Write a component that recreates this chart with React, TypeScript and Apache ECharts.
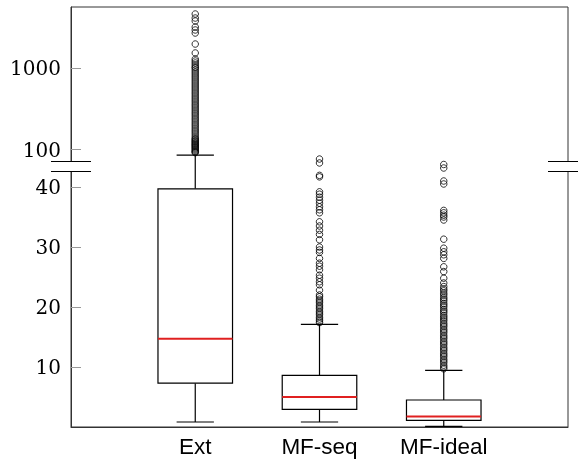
import React, { useEffect, useRef } from "react";
import * as echarts from "echarts";

// Runtime per method; one box per category.
const categories = ["Ext", "MF-seq", "MF-ideal"];

// [lower whisker, Q1, median, Q3, upper whisker]
const extStats = [0.83, 7.3, 14.7, 39.7, 86];
const mfSeqStats = [0.83, 2.93, 5.0, 8.6, 17.1];
const mfIdealStats = [0.1, 1.12, 1.77, 4.5, 9.43];

const extOutliers = [
  4580, 4090, 3760, 3175, 2920, 2680, 1965, 1527, 1288, 1218, 1151, 1088, 1029,
  1000, 945, 893, 845, 798, 755, 713, 674, 637, 602, 569, 538, 508, 481, 454,
  429, 406, 384, 362, 343, 324, 306, 289, 274, 259, 244, 231, 218, 206, 195,
  184, 174, 165, 156, 147, 139, 135, 131, 127, 124, 120, 117, 114, 111, 108,
  105, 102, 99, 96, 94, 92,
];
const mfSeqOutliers = [
  76.9, 68.8, 48.5, 46.5, 39.2, 38.8, 38.3, 37.8, 37.3, 36.7, 36.2, 35.7, 34.2,
  33.5, 32.8, 32.1, 31.2, 30.0, 29.5, 29.1, 28.1, 27.3, 26.8, 26.2, 25.3, 24.8,
  24.2, 23.7, 22.8, 22.0, 21.7, 21.3, 21.0, 20.7, 20.3, 20.0, 19.7, 19.3, 19.0,
  18.7, 18.3, 18.0, 17.7, 17.4,
];
const mfIdealOutliers = [
  65.9, 59.7, 41.0, 40.5, 36.1, 35.7, 35.3, 35.0, 34.5, 31.3, 29.8, 29.2, 28.7,
  28.1, 26.7, 25.9, 24.8, 24.0, 23.4, 23.0, 22.7, 22.3, 22.0, 21.6, 21.3, 21.0,
  20.6, 20.3, 20.0, 19.6, 19.3, 19.0, 18.6, 18.3, 18.0, 17.7, 17.3, 17.0, 16.7,
  16.3, 16.0, 15.7, 15.3, 15.0, 14.7, 14.3, 14.0, 13.7, 13.3, 13.0, 12.7, 12.3,
  12.0, 11.7, 11.3, 11.0, 10.7, 10.3, 10.0, 9.7,
];

const yTickValues = [10, 20, 30, 40, 100, 1000];

// Broken y axis: linear segment below LINEAR_TOP, log10 segment above it.
const LINEAR_TOP = 41;
const LINEAR_SCALE = 6;
const LOG_ANCHOR = 277.3; // axis position of the value 100
const LOG_DECADE = 81.7;
const AXIS_MAX = 420;

function toAxis(v: number): number {
  return v <= LINEAR_TOP
    ? v * LINEAR_SCALE
    : LOG_ANCHOR + LOG_DECADE * Math.log10(v / 100);
}

const statsList = [extStats, mfSeqStats, mfIdealStats];
const outlierList = [extOutliers, mfSeqOutliers, mfIdealOutliers];

const BOX_WIDTH = 0.6;
const CAP_WIDTH = 0.3;

function breakMark(x: number) {
  return [
    {
      type: "rect",
      z: 100,
      silent: true,
      shape: { x, y: 162, width: 40, height: 9 },
      style: { fill: "#ffffff" },
    },
    {
      type: "line",
      z: 101,
      silent: true,
      shape: { x1: x, y1: 161.5, x2: x + 40, y2: 161.5 },
      style: { stroke: "#000", lineWidth: 1.1 },
    },
    {
      type: "line",
      z: 101,
      silent: true,
      shape: { x1: x, y1: 171.5, x2: x + 40, y2: 171.5 },
      style: { stroke: "#000", lineWidth: 1.1 },
    },
  ];
}

export default function App() {
  const ref = useRef<HTMLDivElement>(null);

  useEffect(() => {
    if (!ref.current) return;
    const chart = echarts.init(ref.current, undefined, { renderer: "svg" });

    const boxData = statsList.map((s, i) => [i + 1, ...s.map(toAxis)]);
    const outlierData: number[][] = [];
    outlierList.forEach((arr, i) =>
      arr.forEach((v) => outlierData.push([i + 1, toAxis(v)]))
    );
    const tickPositions = yTickValues.map(toAxis);

    chart.setOption({
      animation: false,
      grid: {
        left: 71,
        right: 10,
        top: 7,
        bottom: 32,
        show: true,
        borderColor: "#333",
        borderWidth: 1,
      },
      xAxis: {
        type: "value",
        min: 0,
        max: 4,
        interval: 1,
        axisLine: { lineStyle: { color: "#333", width: 1 } },
        axisTick: { show: false },
        splitLine: { show: false },
        axisLabel: {
          customValues: [1, 2, 3],
          formatter: (v: number) => categories[Math.round(v) - 1] ?? "",
          fontFamily: "Liberation Sans",
          fontSize: 22.5,
          color: "#000",
          margin: 8,
        },
      },
      yAxis: {
        type: "value",
        min: 0,
        max: AXIS_MAX,
        axisLine: { show: true, lineStyle: { color: "#333", width: 1 } },
        splitLine: { show: false },
        axisTick: {
          show: true,
          inside: true,
          length: 10,
          customValues: tickPositions,
          lineStyle: { color: "#999", width: 1 },
        },
        axisLabel: {
          customValues: tickPositions,
          formatter: (v: number) => {
            const idx = tickPositions.findIndex((p) => Math.abs(p - v) < 0.01);
            return idx >= 0 ? String(yTickValues[idx]) : "";
          },
          fontFamily: "DejaVu Serif",
          fontSize: 20,
          color: "#000",
          margin: 10,
        },
      },
      series: [
        {
          type: "custom",
          data: boxData,
          encode: { x: 0, y: [1, 2, 3, 4, 5] },
          z: 2,
          renderItem: (params: any, api: any) => {
            const x = api.value(0);
            const [lo, q1, med, q3, hi] = [1, 2, 3, 4, 5].map((d) =>
              api.value(d)
            );
            const pLo = api.coord([x, lo]);
            const pQ1 = api.coord([x, q1]);
            const pMed = api.coord([x, med]);
            const pQ3 = api.coord([x, q3]);
            const pHi = api.coord([x, hi]);
            const halfBox = api.size([BOX_WIDTH, 0])[0] / 2;
            const halfCap = api.size([CAP_WIDTH, 0])[0] / 2;
            const cx = pMed[0];
            const lineStyle = { stroke: "#000", lineWidth: 1.2, fill: "none" };
            return {
              type: "group",
              children: [
                {
                  type: "line",
                  shape: { x1: cx, y1: pQ3[1], x2: cx, y2: pHi[1] },
                  style: lineStyle,
                },
                {
                  type: "line",
                  shape: { x1: cx, y1: pQ1[1], x2: cx, y2: pLo[1] },
                  style: lineStyle,
                },
                {
                  type: "line",
                  shape: {
                    x1: cx - halfCap,
                    y1: pHi[1],
                    x2: cx + halfCap,
                    y2: pHi[1],
                  },
                  style: lineStyle,
                },
                {
                  type: "line",
                  shape: {
                    x1: cx - halfCap,
                    y1: pLo[1],
                    x2: cx + halfCap,
                    y2: pLo[1],
                  },
                  style: lineStyle,
                },
                {
                  type: "rect",
                  shape: {
                    x: cx - halfBox,
                    y: pQ3[1],
                    width: halfBox * 2,
                    height: pQ1[1] - pQ3[1],
                  },
                  style: { stroke: "#000", lineWidth: 1.2, fill: "#fff" },
                },
                {
                  type: "line",
                  shape: {
                    x1: cx - halfBox,
                    y1: pMed[1],
                    x2: cx + halfBox,
                    y2: pMed[1],
                  },
                  style: { stroke: "#e02020", lineWidth: 2 },
                },
              ],
            };
          },
        },
        {
          type: "scatter",
          data: outlierData,
          symbol: "circle",
          symbolSize: 6.5,
          z: 3,
          itemStyle: {
            color: "rgba(0,0,0,0)",
            borderColor: "#000",
            borderWidth: 1,
          },
        },
      ],
      graphic: [...breakMark(51), ...breakMark(548)],
    });

    return () => chart.dispose();
  }, []);

  return (
    <div
      ref={ref}
      style={{ position: "fixed", left: 0, top: 0, width: 578, height: 459 }}
    />
  );
}
